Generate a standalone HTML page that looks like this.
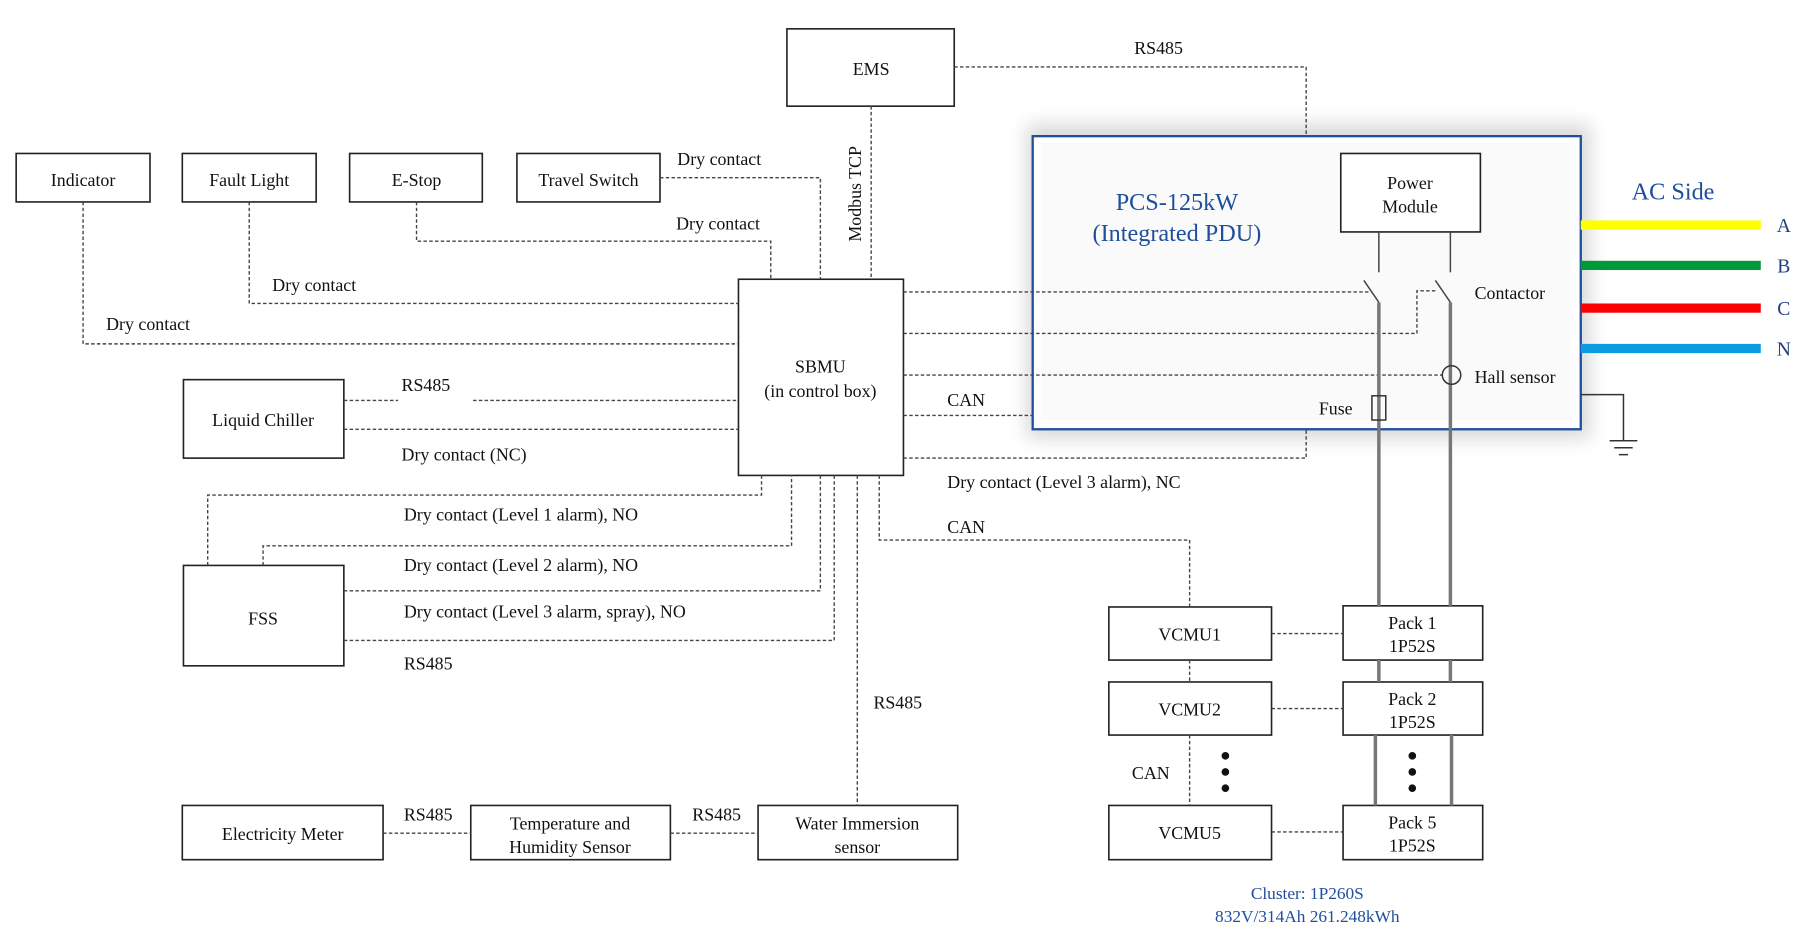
<!DOCTYPE html>
<html><head><meta charset="utf-8"><style>
html,body{margin:0;padding:0;background:#fff;}
svg{display:block;}
text{font-family:"Liberation Serif",serif;fill:#111;}
.bl{fill:#1f4e9c;}
.bd{fill:#1f3f80;}
</style></head><body>
<svg width="1800" height="937" viewBox="0 0 1560 812" preserveAspectRatio="none" xmlns="http://www.w3.org/2000/svg">
<defs>
<filter id="sh" x="-10%" y="-15%" width="120%" height="130%"><feGaussianBlur stdDeviation="8"/></filter>
</defs>
<rect width="1560" height="812" fill="#fff"/>
<rect x="890" y="108" width="488" height="272" fill="#d8d8d8" filter="url(#sh)"/>
<rect x="895" y="118" width="475" height="254" fill="#fff"/>
<rect x="902" y="124" width="460" height="240" fill="#fafafa"/>
<rect x="895" y="118" width="475" height="254" fill="none" stroke="#1f4e9c" stroke-width="2"/>

<g fill="#fff" stroke="#222" stroke-width="1.4">
<rect x="682" y="25" width="145" height="67"/>
<rect x="14" y="133" width="116" height="42"/>
<rect x="158" y="133" width="116" height="42"/>
<rect x="303" y="133" width="115" height="42"/>
<rect x="448" y="133" width="124" height="42"/>
<rect x="640" y="242" width="143" height="170"/>
<rect x="159" y="329" width="139" height="68"/>
<rect x="159" y="490" width="139" height="87"/>
<rect x="158" y="698" width="174" height="47"/>
<rect x="408" y="698" width="173" height="47"/>
<rect x="657" y="698" width="173" height="47"/>
<rect x="961" y="526" width="141" height="46"/>
<rect x="961" y="591" width="141" height="46"/>
<rect x="961" y="698" width="141" height="47"/>
<rect x="1164" y="525" width="121" height="47"/>
<rect x="1164" y="591" width="121" height="46"/>
<rect x="1164" y="698" width="121" height="47"/>
<rect x="1162" y="133" width="121" height="68"/>
</g>

<g fill="none" stroke="#444" stroke-width="1.2" stroke-dasharray="3,2">
<polyline points="827,58 1132,58 1132,118"/>
<line x1="755" y1="92" x2="755" y2="242"/>
<polyline points="72,175 72,298 640,298"/>
<polyline points="216,175 216,263 640,263"/>
<polyline points="361,175 361,209 668,209 668,242"/>
<polyline points="572,154 711,154 711,242"/>
<line x1="298" y1="347" x2="345" y2="347"/>
<line x1="410" y1="347" x2="640" y2="347"/>
<line x1="298" y1="372" x2="640" y2="372"/>
<polyline points="180,490 180,429 660,429 660,412"/>
<polyline points="228,490 228,473 686,473 686,412"/>
<polyline points="298,512 711,512 711,412"/>
<polyline points="298,555 723,555 723,412"/>
<line x1="743" y1="412" x2="743" y2="698"/>
<line x1="332" y1="722" x2="408" y2="722"/>
<line x1="581" y1="722" x2="657" y2="722"/>
<polyline points="762,412 762,468 1031,468 1031,526"/>
<line x1="783" y1="253" x2="1186" y2="253"/>
<polyline points="783,289 1228,289 1228,252 1246,252"/>
<line x1="783" y1="325" x2="1250" y2="325"/>
<line x1="783" y1="360" x2="895" y2="360"/>
<polyline points="783,397 1132,397 1132,372"/>
<line x1="1102" y1="549" x2="1164" y2="549"/>
<line x1="1102" y1="614" x2="1164" y2="614"/>
<line x1="1102" y1="721" x2="1164" y2="721"/>
<line x1="1031" y1="572" x2="1031" y2="591"/>
<line x1="1031" y1="637" x2="1031" y2="698"/>
</g>

<g stroke="#444" stroke-width="1.3">
<line x1="1195" y1="201" x2="1195" y2="236"/>
<line x1="1257" y1="201" x2="1257" y2="236"/>
<line x1="1182" y1="243" x2="1195" y2="262"/>
<line x1="1244" y1="243" x2="1257" y2="262"/>
</g>
<g stroke="#777" stroke-width="3">
<line x1="1195" y1="262" x2="1195" y2="525"/>
<line x1="1257" y1="262" x2="1257" y2="525"/>
<line x1="1195" y1="572" x2="1195" y2="591"/>
<line x1="1257" y1="572" x2="1257" y2="591"/>
<line x1="1192" y1="637" x2="1192" y2="698"/>
<line x1="1258" y1="637" x2="1258" y2="698"/>
</g>
<circle cx="1258" cy="325" r="8" fill="none" stroke="#333" stroke-width="1.3"/>
<rect x="1189" y="343" width="12" height="21" fill="none" stroke="#333" stroke-width="1.3"/>

<rect x="1370" y="191" width="156" height="8" fill="#ffff00"/>
<rect x="1370" y="226" width="156" height="8" fill="#009a3a"/>
<rect x="1370" y="263" width="156" height="8" fill="#ff0000"/>
<rect x="1370" y="298" width="156" height="8" fill="#0a9be0"/>
<polyline points="1370,342 1407,342 1407,382" fill="none" stroke="#333" stroke-width="1.3"/>
<g stroke="#333" stroke-width="1.3">
<line x1="1395" y1="382" x2="1419" y2="382"/>
<line x1="1399" y1="388" x2="1415" y2="388"/>
<line x1="1403" y1="394" x2="1411" y2="394"/>
</g>

<g fill="#111">
<circle cx="1062" cy="655" r="3.3"/><circle cx="1062" cy="669" r="3.3"/><circle cx="1062" cy="683" r="3.3"/>
<circle cx="1224" cy="655" r="3.3"/><circle cx="1224" cy="669" r="3.3"/><circle cx="1224" cy="683" r="3.3"/>
</g>

<g font-size="15.5" text-anchor="middle">
<text x="755" y="65">EMS</text>
<text x="72" y="161">Indicator</text>
<text x="216" y="161">Fault Light</text>
<text x="361" y="161">E-Stop</text>
<text x="510" y="161">Travel Switch</text>
<text x="711" y="323">SBMU</text>
<text x="711" y="344">(in control box)</text>
<text x="228" y="369">Liquid Chiller</text>
<text x="228" y="541">FSS</text>
<text x="245" y="728">Electricity Meter</text>
<text x="494" y="719">Temperature and</text>
<text x="494" y="739">Humidity Sensor</text>
<text x="743" y="719">Water Immersion</text>
<text x="743" y="739">sensor</text>
<text x="1031" y="555">VCMU1</text>
<text x="1031" y="620">VCMU2</text>
<text x="1031" y="727">VCMU5</text>
<text x="1224" y="545">Pack 1</text>
<text x="1224" y="565">1P52S</text>
<text x="1224" y="611">Pack 2</text>
<text x="1224" y="631">1P52S</text>
<text x="1224" y="718">Pack 5</text>
<text x="1224" y="738">1P52S</text>
<text x="1222" y="164">Power</text>
<text x="1222" y="184">Module</text>
</g>
<g font-size="15.5">
<text x="983" y="47">RS485</text>
<text x="587" y="143">Dry contact</text>
<text x="586" y="199">Dry contact</text>
<text x="236" y="252">Dry contact</text>
<text x="92" y="286">Dry contact</text>
<text x="348" y="339">RS485</text>
<text x="348" y="399">Dry contact (NC)</text>
<text x="350" y="451">Dry contact (Level 1 alarm), NO</text>
<text x="350" y="495">Dry contact (Level 2 alarm), NO</text>
<text x="350" y="535">Dry contact (Level 3 alarm, spray), NO</text>
<text x="350" y="580">RS485</text>
<text x="757" y="614">RS485</text>
<text x="350" y="711">RS485</text>
<text x="600" y="711">RS485</text>
<text x="821" y="352">CAN</text>
<text x="821" y="423">Dry contact (Level 3 alarm), NC</text>
<text x="821" y="462">CAN</text>
<text x="981" y="675">CAN</text>
<text x="1278" y="259">Contactor</text>
<text x="1278" y="332">Hall sensor</text>
<text x="1143" y="359">Fuse</text>
<text x="746" y="168" transform="rotate(-90 746 168)" text-anchor="middle">Modbus TCP</text>
</g>
<g text-anchor="middle">
<text x="1020" y="182" font-size="21" style="fill:#1f4e9c">PCS-125kW</text>
<text x="1020" y="209" font-size="21" style="fill:#1f4e9c">(Integrated PDU)</text>
<text x="1450" y="173" font-size="21" style="fill:#1f4e9c">AC Side</text>
<text x="1546" y="201" font-size="17" style="fill:#1f3f80">A</text>
<text x="1546" y="236" font-size="17" style="fill:#1f3f80">B</text>
<text x="1546" y="273" font-size="17" style="fill:#1f3f80">C</text>
<text x="1546" y="308" font-size="17" style="fill:#1f3f80">N</text>
<text x="1133" y="779" font-size="15" style="fill:#1f4e9c">Cluster: 1P260S</text>
<text x="1133" y="799" font-size="15" style="fill:#1f4e9c">832V/314Ah 261.248kWh</text>
</g>
</svg>
</body></html>
